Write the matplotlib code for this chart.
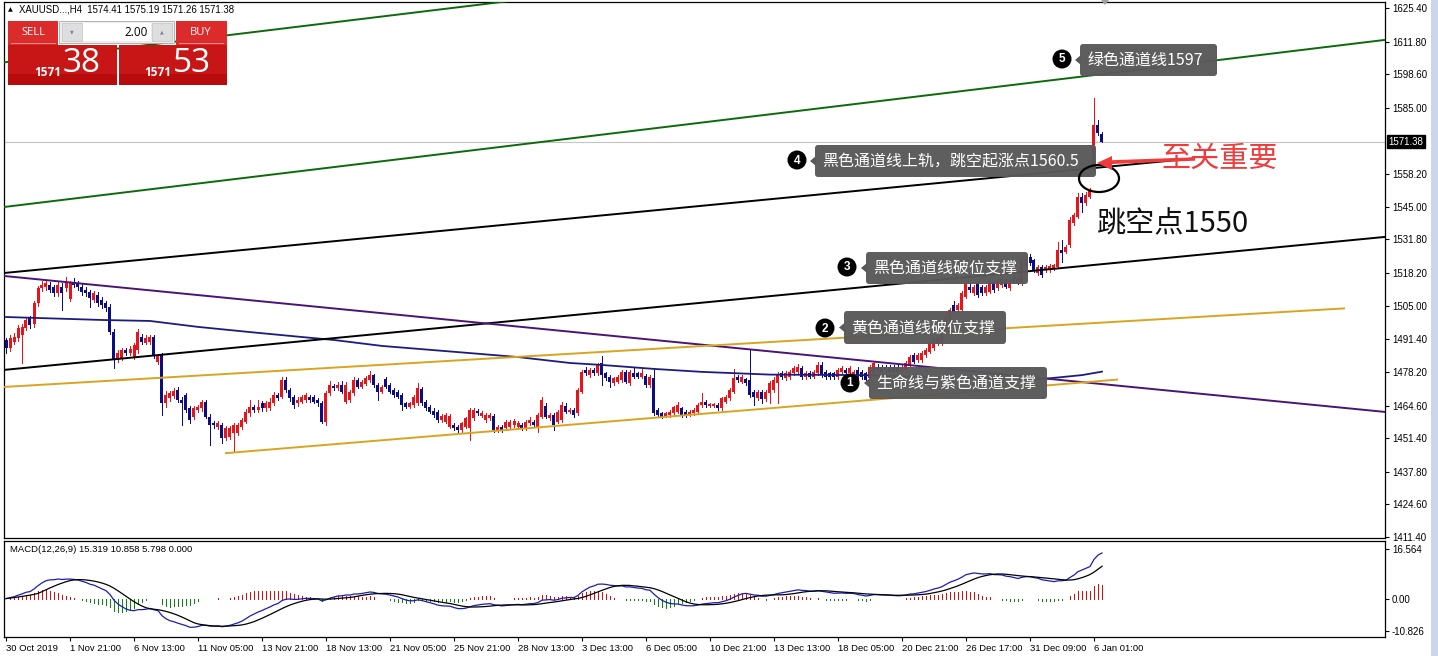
import numpy as np
import pandas as pd
import matplotlib
matplotlib.use("Agg")
import matplotlib.pyplot as plt
from matplotlib.patches import Rectangle, FancyBboxPatch, Ellipse, Polygon, Circle
from matplotlib.transforms import Affine2D

# ---- data: XAUUSD H4 bars ----
opens = [
    1491.1, 1487.7, 1490.4, 1491.8, 1493.1, 1495.8, 1499.9, 1497.5, 1506.0, 1512.0,
    1512.7, 1513.4, 1512.7, 1510.0, 1512.7, 1512.0, 1507.5, 1514.7, 1514.0, 1512.7,
    1511.3, 1510.7, 1507.3, 1509.3, 1507.3, 1506.0, 1504.6, 1494.5, 1483.0, 1483.7,
    1487.1, 1485.7, 1484.4, 1487.1, 1492.5, 1490.0, 1490.4, 1492.2, 1482.3, 1485.0,
    1465.5, 1467.5, 1468.4, 1470.9, 1467.0, 1468.8, 1463.5, 1460.1, 1462.8, 1463.5,
    1466.1, 1460.1, 1457.6, 1456.0, 1456.7, 1451.3, 1452.0, 1453.3, 1453.3, 1456.0,
    1458.1, 1461.4, 1464.1, 1462.8, 1465.5, 1463.5, 1463.5, 1465.5, 1468.8, 1468.2,
    1474.9, 1470.9, 1468.2, 1465.5, 1466.1, 1466.8, 1468.2, 1468.2, 1466.8, 1465.5,
    1458.1, 1469.5, 1472.4, 1471.5, 1472.9, 1466.1, 1466.8, 1469.5, 1474.9, 1472.2,
    1473.5, 1474.9, 1476.9, 1472.9, 1470.2, 1475.2, 1472.9, 1470.9, 1470.2, 1468.9,
    1465.5, 1464.1, 1464.8, 1465.5, 1471.2, 1466.2, 1464.1, 1462.5, 1462.1, 1458.7,
    1458.1, 1456.0, 1456.7, 1456.0, 1454.7, 1456.0, 1455.4, 1459.4, 1462.5, 1460.3,
    1458.7, 1459.4, 1460.3, 1454.7, 1456.0, 1455.4, 1456.0, 1456.7, 1456.0, 1456.7,
    1455.4, 1457.4, 1458.1, 1456.0, 1460.1, 1464.4, 1459.4, 1460.8, 1458.1, 1458.7,
    1464.4, 1462.1, 1462.8, 1461.4, 1470.2, 1479.0, 1476.9, 1479.0, 1477.6, 1481.7,
    1477.6, 1476.3, 1473.6, 1474.2, 1474.9, 1478.3, 1473.6, 1477.9, 1477.6, 1476.3,
    1476.5, 1472.9, 1475.6, 1462.8, 1461.4, 1460.3, 1460.8, 1461.4, 1462.1, 1463.5,
    1462.1, 1461.1, 1461.4, 1462.1, 1464.8, 1466.2, 1464.4, 1464.4, 1464.8, 1463.5,
    1466.2, 1467.5, 1470.2, 1476.3, 1474.2, 1475.2, 1474.9, 1470.2, 1467.5, 1470.2,
    1467.1, 1469.5, 1470.9, 1473.6, 1477.6, 1475.6, 1476.3, 1477.6, 1478.3, 1479.6,
    1476.3, 1477.6, 1476.3, 1477.6, 1481.0, 1478.3, 1477.6, 1477.6, 1476.3, 1478.3,
    1479.0, 1477.6, 1476.9, 1479.0, 1478.3, 1477.6, 1475.6, 1477.6, 1480.3, 1480.3,
    1480.3, 1480.3, 1480.3, 1480.3, 1478.3, 1479.0, 1481.0, 1485.0, 1483.0, 1483.0,
    1485.0, 1486.4, 1487.7, 1489.8, 1489.8, 1494.5, 1499.2, 1505.3, 1503.2, 1503.2,
    1508.6, 1512.7, 1510.0, 1514.0, 1512.7, 1510.0, 1510.7, 1514.7, 1512.0, 1513.3,
    1515.4, 1512.0, 1516.0, 1515.6, 1514.0, 1520.8, 1524.8, 1523.5, 1518.1, 1520.8,
    1519.4, 1519.4, 1520.1, 1520.8, 1527.5, 1526.8, 1529.5, 1538.3, 1541.0, 1549.1,
    1546.4, 1549.1, 1560.5, 1578.1, 1574.41,
]
highs = [
    1492.0, 1493.0, 1494.0, 1497.0, 1497.5, 1500.5, 1501.0, 1507.0, 1513.0, 1515.0,
    1515.5, 1514.5, 1513.5, 1514.5, 1514.0, 1516.7, 1515.0, 1516.0, 1515.0, 1514.0,
    1512.5, 1511.5, 1511.0, 1510.5, 1508.5, 1507.0, 1505.5, 1495.5, 1487.0, 1488.0,
    1488.0, 1488.5, 1490.0, 1495.5, 1493.5, 1493.0, 1493.0, 1493.0, 1485.5, 1486.0,
    1470.5, 1470.5, 1471.5, 1472.2, 1468.0, 1469.5, 1464.5, 1464.5, 1465.0, 1467.0,
    1467.0, 1461.0, 1458.5, 1458.2, 1457.5, 1456.5, 1456.5, 1457.5, 1457.5, 1459.5,
    1463.0, 1466.8, 1465.0, 1466.8, 1466.5, 1466.5, 1467.5, 1470.0, 1469.8, 1476.0,
    1476.0, 1471.5, 1469.0, 1468.0, 1469.0, 1469.5, 1469.0, 1469.0, 1467.5, 1466.5,
    1470.5, 1474.5, 1473.5, 1474.0, 1474.5, 1474.0, 1471.0, 1476.0, 1475.8, 1475.0,
    1476.5, 1478.5, 1477.5, 1473.6, 1473.0, 1476.3, 1473.6, 1471.6, 1470.9, 1469.5,
    1466.2, 1466.2, 1468.9, 1473.6, 1471.9, 1466.8, 1464.8, 1463.5, 1462.8, 1461.0,
    1461.4, 1461.0, 1457.4, 1456.7, 1458.1, 1460.1, 1463.5, 1463.5, 1463.2, 1462.5,
    1461.4, 1461.4, 1461.0, 1456.7, 1456.7, 1458.7, 1458.7, 1459.1, 1458.4, 1457.4,
    1458.7, 1460.1, 1458.7, 1461.5, 1468.2, 1465.5, 1461.4, 1461.4, 1462.8, 1466.2,
    1465.5, 1463.5, 1463.5, 1471.6, 1479.0, 1480.3, 1479.6, 1479.6, 1481.7, 1484.6,
    1478.3, 1476.9, 1476.3, 1476.9, 1479.0, 1479.0, 1479.0, 1480.3, 1478.3, 1479.6,
    1477.2, 1476.9, 1479.6, 1463.5, 1462.1, 1462.1, 1462.8, 1464.4, 1466.2, 1464.1,
    1462.8, 1462.8, 1463.5, 1465.5, 1469.8, 1466.8, 1465.8, 1465.8, 1465.5, 1468.2,
    1468.9, 1471.6, 1479.2, 1476.9, 1476.9, 1475.9, 1487.1, 1470.9, 1470.9, 1471.0,
    1471.0, 1474.5, 1476.0, 1478.0, 1478.5, 1478.5, 1479.0, 1480.5, 1481.5, 1480.5,
    1478.5, 1478.5, 1479.0, 1482.0, 1482.0, 1479.0, 1478.3, 1478.3, 1479.8, 1480.5,
    1479.8, 1480.5, 1479.0, 1480.0, 1479.0, 1478.3, 1481.0, 1482.5, 1481.5, 1481.0,
    1481.0, 1481.0, 1481.0, 1481.0, 1481.0, 1482.5, 1485.0, 1486.0, 1486.0, 1486.5,
    1488.0, 1490.5, 1492.5, 1492.5, 1496.0, 1501.5, 1504.0, 1507.0, 1506.0, 1511.0,
    1515.0, 1514.0, 1513.5, 1515.0, 1513.5, 1513.5, 1516.0, 1515.5, 1516.0, 1516.5,
    1516.0, 1516.0, 1516.9, 1516.5, 1524.5, 1525.0, 1526.0, 1524.0, 1521.5, 1521.5,
    1521.5, 1521.8, 1522.0, 1530.9, 1531.5, 1529.5, 1541.0, 1542.5, 1550.4, 1550.4,
    1551.1, 1552.5, 1588.9, 1580.1, 1575.19,
]
lows = [
    1486.0, 1486.5, 1489.5, 1490.5, 1481.7, 1495.0, 1496.0, 1496.5, 1505.0, 1511.0,
    1511.5, 1510.5, 1509.0, 1509.0, 1503.2, 1511.0, 1507.0, 1512.5, 1511.5, 1509.5,
    1509.0, 1504.6, 1506.5, 1505.0, 1504.0, 1503.0, 1493.5, 1479.6, 1482.0, 1483.0,
    1485.0, 1485.0, 1483.5, 1486.0, 1489.5, 1489.5, 1489.5, 1484.0, 1481.5, 1460.8,
    1464.0, 1466.5, 1467.5, 1466.0, 1456.7, 1462.0, 1457.5, 1459.0, 1462.0, 1462.5,
    1459.5, 1448.6, 1455.5, 1455.0, 1449.3, 1450.5, 1451.0, 1445.9, 1452.5, 1455.0,
    1457.5, 1460.5, 1462.0, 1462.0, 1462.5, 1462.5, 1462.8, 1464.8, 1466.8, 1467.5,
    1470.0, 1466.5, 1463.5, 1464.5, 1465.5, 1466.0, 1466.0, 1465.5, 1464.5, 1457.5,
    1456.7, 1468.8, 1470.9, 1470.9, 1469.5, 1465.5, 1466.0, 1468.8, 1471.5, 1471.5,
    1472.9, 1474.0, 1472.0, 1466.8, 1469.5, 1471.5, 1469.5, 1468.2, 1467.5, 1462.8,
    1463.5, 1463.5, 1464.1, 1464.8, 1464.8, 1462.8, 1461.4, 1460.1, 1458.1, 1458.1,
    1457.4, 1455.4, 1454.7, 1454.0, 1454.0, 1455.4, 1450.6, 1458.7, 1460.8, 1459.8,
    1458.1, 1458.7, 1454.0, 1454.0, 1454.0, 1454.7, 1455.4, 1456.0, 1455.4, 1454.7,
    1454.7, 1456.7, 1456.0, 1454.0, 1459.4, 1459.4, 1458.7, 1454.7, 1457.4, 1458.1,
    1461.4, 1461.4, 1460.1, 1460.8, 1469.5, 1476.9, 1476.3, 1476.9, 1476.9, 1472.9,
    1474.9, 1472.2, 1472.9, 1473.6, 1474.2, 1473.6, 1472.9, 1475.6, 1475.6, 1475.6,
    1472.2, 1472.2, 1460.8, 1460.1, 1459.4, 1459.8, 1460.1, 1460.8, 1461.4, 1460.1,
    1460.1, 1460.4, 1460.8, 1461.4, 1464.1, 1464.1, 1463.8, 1463.8, 1462.8, 1462.8,
    1465.5, 1466.8, 1469.5, 1474.2, 1473.6, 1472.9, 1468.2, 1464.8, 1466.8, 1465.5,
    1466.5, 1465.5, 1470.0, 1465.5, 1475.5, 1475.0, 1475.5, 1477.0, 1477.5, 1475.5,
    1475.5, 1475.8, 1475.8, 1477.0, 1476.0, 1475.5, 1475.5, 1475.5, 1475.5, 1477.6,
    1477.0, 1477.0, 1476.3, 1474.2, 1475.5, 1473.6, 1474.9, 1477.0, 1478.3, 1477.6,
    1478.3, 1477.6, 1477.6, 1477.6, 1477.6, 1478.3, 1480.3, 1481.7, 1482.3, 1482.3,
    1484.4, 1485.7, 1487.0, 1489.0, 1489.1, 1493.8, 1498.5, 1501.9, 1502.5, 1502.5,
    1507.9, 1510.7, 1509.3, 1508.6, 1509.3, 1509.3, 1510.0, 1510.7, 1511.3, 1512.7,
    1512.0, 1511.3, 1514.0, 1513.7, 1513.3, 1520.0, 1521.5, 1518.7, 1517.4, 1516.7,
    1518.7, 1518.7, 1519.4, 1520.1, 1522.5, 1526.2, 1528.9, 1537.6, 1540.3, 1543.0,
    1545.7, 1548.4, 1559.8, 1574.0, 1571.26,
]
closes = [
    1487.7, 1491.8, 1492.5, 1495.8, 1496.5, 1499.2, 1497.2, 1506.0, 1512.0, 1513.4,
    1514.0, 1511.3, 1510.0, 1513.4, 1510.0, 1514.0, 1514.0, 1513.4, 1512.7, 1510.7,
    1510.0, 1508.0, 1510.0, 1506.0, 1505.3, 1503.9, 1494.5, 1483.0, 1485.7, 1487.1,
    1485.7, 1487.4, 1489.1, 1494.5, 1490.4, 1491.8, 1492.2, 1485.0, 1485.0, 1465.5,
    1468.8, 1469.5, 1470.6, 1466.8, 1465.5, 1462.8, 1458.7, 1463.5, 1464.1, 1466.1,
    1460.1, 1456.7, 1456.7, 1457.4, 1451.3, 1455.4, 1455.4, 1456.7, 1456.7, 1458.7,
    1462.1, 1464.1, 1462.8, 1464.1, 1463.5, 1465.5, 1466.1, 1468.8, 1467.5, 1474.9,
    1470.9, 1467.5, 1464.8, 1466.8, 1468.2, 1468.8, 1466.8, 1466.1, 1465.5, 1458.1,
    1469.5, 1472.9, 1471.5, 1472.9, 1470.2, 1472.9, 1470.2, 1474.9, 1472.2, 1474.2,
    1475.6, 1476.9, 1472.9, 1470.2, 1472.2, 1472.2, 1470.2, 1468.9, 1468.2, 1464.8,
    1464.1, 1465.5, 1468.2, 1471.6, 1465.5, 1463.5, 1462.1, 1460.8, 1458.7, 1460.3,
    1460.8, 1460.3, 1455.4, 1454.7, 1457.4, 1459.4, 1462.8, 1462.8, 1461.4, 1461.7,
    1460.8, 1460.8, 1454.7, 1456.0, 1454.7, 1458.1, 1458.1, 1458.4, 1457.6, 1455.4,
    1458.1, 1458.7, 1456.7, 1460.8, 1466.8, 1460.1, 1460.8, 1456.7, 1462.1, 1464.8,
    1462.1, 1462.8, 1460.8, 1470.9, 1478.3, 1477.6, 1479.0, 1477.6, 1481.0, 1476.9,
    1475.6, 1474.2, 1475.6, 1476.3, 1478.3, 1474.2, 1478.3, 1476.3, 1476.3, 1477.6,
    1472.9, 1476.3, 1461.4, 1460.8, 1460.1, 1461.4, 1462.1, 1463.8, 1464.8, 1460.8,
    1460.8, 1462.1, 1462.8, 1464.8, 1466.2, 1464.8, 1465.2, 1465.2, 1463.5, 1467.5,
    1468.2, 1470.9, 1475.6, 1474.9, 1476.3, 1473.6, 1468.9, 1468.2, 1470.2, 1467.1,
    1470.2, 1473.6, 1474.9, 1476.9, 1476.3, 1477.6, 1478.3, 1479.6, 1480.3, 1476.3,
    1477.6, 1476.3, 1478.3, 1481.0, 1476.9, 1476.3, 1476.3, 1476.3, 1479.0, 1479.6,
    1477.6, 1479.6, 1478.3, 1474.9, 1476.3, 1474.9, 1480.3, 1481.7, 1479.0, 1478.3,
    1479.0, 1478.3, 1478.3, 1478.3, 1480.3, 1481.7, 1484.4, 1482.3, 1485.0, 1485.7,
    1487.1, 1489.8, 1491.8, 1491.8, 1495.1, 1500.5, 1503.2, 1502.5, 1505.3, 1510.0,
    1514.0, 1511.3, 1512.7, 1509.3, 1510.0, 1512.7, 1515.4, 1511.3, 1515.4, 1515.6,
    1512.7, 1515.4, 1514.7, 1514.3, 1523.5, 1523.5, 1522.1, 1519.4, 1520.8, 1517.4,
    1520.8, 1521.0, 1521.4, 1527.5, 1526.2, 1528.9, 1539.6, 1541.6, 1549.1, 1546.4,
    1549.8, 1551.8, 1578.1, 1574.7, 1571.38,
]
last_price = 1571.38

# moving average ("生命线"), read at a few bars
ma_bars = [0, 24, 36, 48, 61, 74, 82, 94, 116, 128, 141, 149, 162, 174, 191, 214, 230, 251, 259, 264, 269, 274]
ma_vals = [1500.4, 1499.2, 1498.8, 1496.4, 1494.3, 1492.3, 1491.1, 1488.7, 1485.8, 1484.2, 1481.8,
           1481.0, 1479.4, 1478.2, 1477.1, 1476.9, 1476.1, 1475.5, 1475.3, 1476.1, 1476.9, 1478.3]

# trend lines: (bar0, price0, bar1, price1, colour)
trend_lines = [
    (-0.5, 1603.4, 140.0, 1631.0, '#0b6b0b'),
    (-0.5, 1544.9, 344.75, 1612.5, '#0b6b0b'),
    (-0.5, 1518.2, 297.25, 1564.6, '#000000'),
    (-0.5, 1479.0, 344.75, 1532.8, '#000000'),
    (-0.5, 1517.0, 344.75, 1462.0, '#4a1477'),
    (-0.5, 1472.1, 334.75, 1503.9, '#d9a520'),
    (54.75, 1445.3, 278.0, 1475.1, '#d9a520'),
]

price_ticks = [1625.40, 1611.80, 1598.60, 1585.00, 1558.20, 1545.00, 1531.80, 1518.20,
               1505.00, 1491.40, 1478.20, 1464.60, 1451.40, 1437.80, 1424.60, 1411.40]
macd_ticks = [16.564, 0.0, -10.826]
macd_tick_labels = ['16.564', '0.00', '-10.826']
date_labels = ['30 Oct 2019', '1 Nov 21:00', '6 Nov 13:00', '11 Nov 05:00', '13 Nov 21:00',
               '18 Nov 13:00', '21 Nov 05:00', '25 Nov 21:00', '28 Nov 13:00', '3 Dec 13:00',
               '6 Dec 05:00', '10 Dec 21:00', '13 Dec 13:00', '18 Dec 05:00', '20 Dec 21:00',
               '26 Dec 17:00', '31 Dec 09:00', '6 Jan 01:00']
date_step = 16

notes = [
    ('1', (850, 383), (869, 367, 1047, 399), '生命线与紫色通道支撑'),
    ('2', (825, 328), (844, 311, 1006, 344), '黄色通道线破位支撑'),
    ('3', (847, 267), (866, 252, 1028, 284), '黑色通道线破位支撑'),
    ('4', (797, 160), (815, 145, 1096, 177), '黑色通道线上轨，跳空起涨点1560.5'),
    ('5', (1062, 59), (1080, 44, 1217, 76), '绿色通道线1597'),
]

RED = '#e8141a'
NAVY = '#0c0c84'
LAT = 'Liberation Sans'
CJK = ['Noto Sans CJK SC', 'DejaVu Sans']

W, H = 1438, 656
fig = plt.figure(figsize=(W / 100, H / 100), dpi=100)
fig.patch.set_facecolor('white')
# pixel positions taken from top-left corner of the screenshot
PX = Affine2D().scale(1.0 / W, -1.0 / H).translate(0, 1) + fig.transFigure

ax = fig.add_axes([4 / W, 1 - 538 / H, 1381 / W, 536 / H])
ax2 = fig.add_axes([4 / W, 1 - 637 / H, 1381 / W, 96 / H])

# ---- candles ----
x = np.arange(len(closes))
o = np.array(opens)
hi = np.array(highs)
lo = np.array(lows)
c = np.array(closes)
cols = np.where(c >= o, RED, NAVY)
ax.vlines(x, lo, hi, colors=cols, lw=0.72, zorder=2, antialiased=False)
ax.bar(x, np.maximum(np.abs(c - o), 0.45), bottom=np.minimum(o, c), width=0.75,
       color=cols, lw=0, zorder=2, antialiased=False)

ax.axhline(last_price, color='#c3c3c3', lw=0.8, zorder=1)
ax.plot(ma_bars, ma_vals, color='#1c1c80', lw=1.3, zorder=3)
for b0, p0, b1, p1, col in trend_lines:
    ax.plot([b0, b1], [p0, p1], color=col, lw=1.4, zorder=3, solid_capstyle='butt')

ax.set_xlim(-0.5, 344.75)
ax.set_ylim(1411.0, 1627.83)
ax.set_xticks([])
ax.yaxis.tick_right()
ax.set_yticks(price_ticks)
ax.set_yticklabels([f'{v:.2f}' for v in price_ticks], fontfamily=LAT, fontsize=7)
ax.tick_params(axis='y', direction='out', length=3, width=0.8, pad=2)
for sp in ax.spines.values():
    sp.set_linewidth(0.9)
ax.annotate(f'{last_price:.2f}', xy=(1, last_price), xycoords=('axes fraction', 'data'),
            xytext=(2.5, 0), textcoords='offset points', ha='left', va='center',
            fontsize=7, fontfamily=LAT, color='white', annotation_clip=False,
            bbox=dict(boxstyle='square,pad=0.15', fc='black', ec='black'))

# ---- MACD ----
s = pd.Series(closes)
macd = s.ewm(span=12, adjust=False).mean() - s.ewm(span=26, adjust=False).mean()
signal = macd.rolling(9, min_periods=1).mean()
hist = macd - signal
ax2.vlines(x, 0, hist, colors=np.where(hist >= 0, '#d01010', '#108010'), lw=0.72,
           antialiased=False)
ax2.plot(x, macd, color='#1c1cb4', lw=0.9)
ax2.plot(x, signal, color='black', lw=0.9)
ax2.set_xlim(-0.5, 344.75)
ax2.set_ylim(-12.83, 19.24)
ax2.yaxis.tick_right()
ax2.set_yticks(macd_ticks)
ax2.set_yticklabels(macd_tick_labels, fontfamily=LAT, fontsize=7)
ax2.tick_params(axis='y', direction='out', length=3, width=0.8, pad=2)
ax2.set_xticks(np.arange(len(date_labels)) * date_step)
ax2.set_xticklabels(date_labels, fontfamily=LAT, fontsize=6.8, ha='left')
ax2.tick_params(axis='x', direction='out', length=3, width=0.8, pad=2)
for sp in ax2.spines.values():
    sp.set_linewidth(0.9)
ax2.text(0.004, 0.915, 'MACD(12,26,9) 15.319 10.858 5.798 0.000', transform=ax2.transAxes,
         fontsize=6.8, fontfamily=LAT, va='center')

# ---- header + one-click trading panel ----
fig.text(8, 10, '▲', transform=PX, fontsize=4.5, va='center')
fig.text(19, 10, 'XAUUSD...,H4  1574.41 1575.19 1571.26 1571.38', transform=PX,
         fontsize=6.9, fontfamily=LAT, va='center')


def frect(x0, y0, x1, y1, **kw):
    fig.add_artist(Rectangle((x0, y0), x1 - x0, y1 - y0, transform=PX, **kw))


frect(8, 21, 58, 45, fc='#dc2b2b', lw=0)
frect(176, 21, 227, 45, fc='#dc2b2b', lw=0)
frect(11, 43, 56, 44, fc='#ee8a8a', lw=0)
frect(179, 43, 224, 44, fc='#ee8a8a', lw=0)
frect(59, 21, 174, 43, fc='#ececec', ec='#a8a8a8', lw=0.6)
frect(83, 23, 151, 41, fc='white', lw=0)
frect(62, 23, 82, 41, fc='#dedede', ec='#c4c4c4', lw=0.5)
frect(152, 23, 172, 41, fc='#dedede', ec='#c4c4c4', lw=0.5)
frect(8, 45, 117, 85, fc='#c81616', lw=0)
frect(119, 45, 227, 85, fc='#c81616', lw=0)
frect(8, 74, 117, 85, fc='#b80c0c', lw=0)
frect(119, 74, 227, 85, fc='#b80c0c', lw=0)
fig.text(72, 32, '▼', transform=PX, fontsize=3.5, color='#8080a8', ha='center', va='center')
fig.text(162, 32, '▲', transform=PX, fontsize=3.5, color='#8080a8', ha='center', va='center')
fig.text(33, 32.5, 'SELL', transform=PX, fontsize=8, color='white', ha='center', va='center',
         fontfamily='Open Sans')
fig.text(201, 32.5, 'BUY', transform=PX, fontsize=8, color='white', ha='center', va='center',
         fontfamily='Open Sans')
fig.text(148, 32, '2.00', transform=PX, fontsize=8.5, color='black', ha='right', va='center',
         fontfamily='Open Sans')
fig.text(61, 72, '1571', transform=PX, fontsize=8.5, color='white', ha='right', va='center',
         fontfamily='Open Sans', fontweight='bold')
fig.text(63, 64, '38', transform=PX, fontsize=24, color='white', ha='left', va='center',
         fontfamily='Open Sans')
fig.text(171, 72, '1571', transform=PX, fontsize=8.5, color='white', ha='right', va='center',
         fontfamily='Open Sans', fontweight='bold')
fig.text(173, 64, '53', transform=PX, fontsize=24, color='white', ha='left', va='center',
         fontfamily='Open Sans')

# chart shift marker and window edge
fig.add_artist(Polygon([(1101, 0), (1109, 0), (1105, 5)], closed=True, transform=PX,
                       fc='#a0a0a0', lw=0))
frect(1431, 0, 1438, 656, fc='#c9d7ea', lw=0)

# ---- numbered labels ----
for num, (cx, cy), (x0, y0, x1, y1), txt in notes:
    fig.add_artist(FancyBboxPatch((x0, y0), x1 - x0, y1 - y0, transform=PX,
                                  boxstyle='round,pad=0,rounding_size=3',
                                  fc='#595959', ec='none', alpha=0.97))
    my = (y0 + y1) / 2
    fig.add_artist(Polygon([(x0 + 1, my - 5), (x0 - 5, my), (x0 + 1, my + 5)], closed=True,
                           transform=PX, fc='#595959', lw=0))
    fig.text(x0 + 7, my + 0.5, txt, transform=PX, fontsize=11.5, color='white',
             ha='left', va='center', family=CJK)
    fig.add_artist(Circle((cx, cy), 9.5, transform=PX, fc='black', lw=0))
    fig.text(cx, cy + 0.5, num, transform=PX, fontsize=8.5, color='white', fontweight='bold',
             ha='center', va='center', fontfamily=LAT)

# gap marker, arrow and captions
fig.add_artist(Ellipse((1099, 178.5), 40, 27, transform=PX, fill=False, ec='black', lw=1.6))
fig.add_artist(Polygon([(1097, 163), (1112, 156), (1112, 160.2), (1195, 157.3),
                        (1195, 160.7), (1112, 164.0), (1112, 170)], closed=True,
                       transform=PX, fc='#ef3b3b', lw=0))
fig.text(1161, 159, '至关重要', transform=PX, fontsize=21, color='#ef3b3b',
         ha='left', va='center', family=CJK)
fig.text(1097, 224, '跳空点1550', transform=PX, fontsize=21, color='#111111',
         ha='left', va='center', family=CJK)

fig.savefig('out.png', dpi=100)
